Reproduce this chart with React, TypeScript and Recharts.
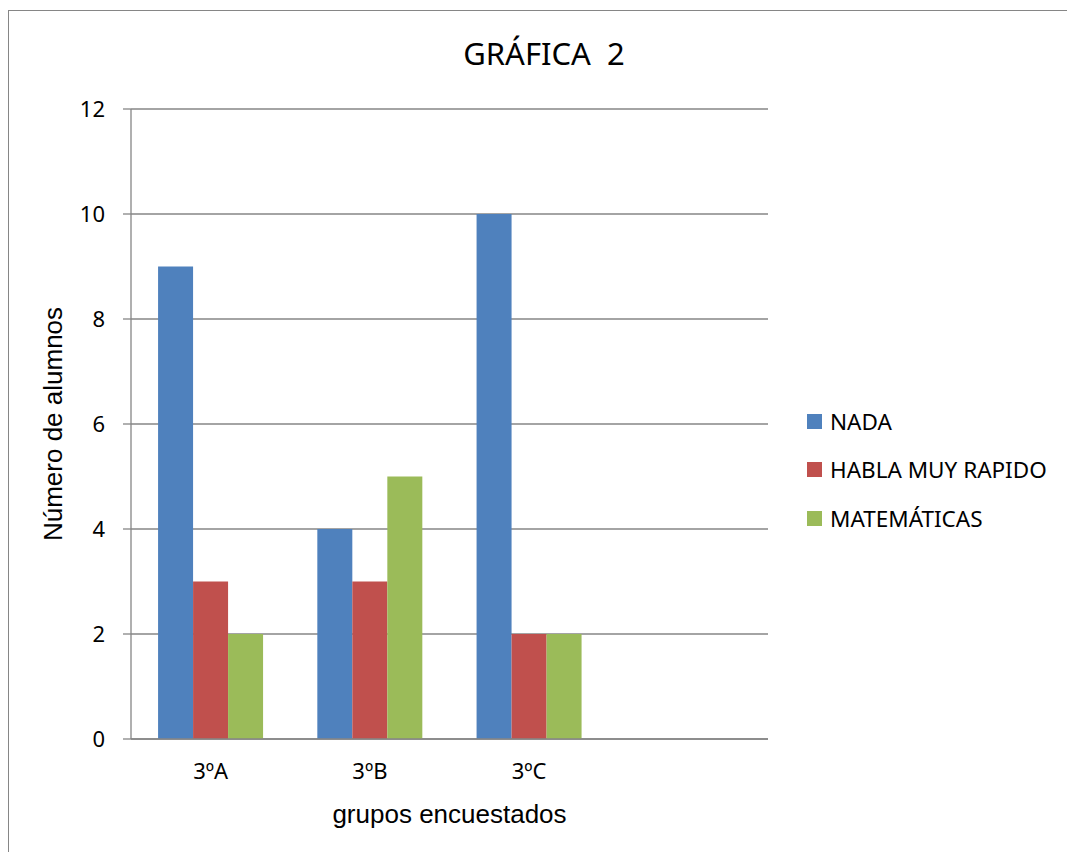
import { BarChart, Bar, XAxis, YAxis, CartesianGrid, Legend, Text } from 'recharts'

// groups surveyed (the 4th slot is empty in the original sheet)
const groups = ['3ºA', '3ºB', '3ºC', '']
const nada = [9, 4, 10, null]
const hablaMuyRapido = [3, 3, 2, null]
const matematicas = [2, 5, 2, null]
const yTicks = [0, 2, 4, 6, 8, 10, 12]

const seriesNames = ['NADA', 'HABLA MUY RAPIDO', 'MATEMÁTICAS']
const seriesColors = ['#4F81BD', '#C0504D', '#9BBB59']

const data = groups.map((g, i) => ({
  grupo: g,
  NADA: nada[i],
  'HABLA MUY RAPIDO': hablaMuyRapido[i],
  MATEMÁTICAS: matematicas[i],
}))

const gridColor = '#868686'
const font = '"Noto Sans", sans-serif'

function LegendBox() {
  return (
    <ul style={{ listStyle: 'none', margin: 0, padding: 0 }}>
      {seriesNames.map((name, i) => (
        <li
          key={name}
          style={{ display: 'flex', alignItems: 'center', height: 48.5 }}
        >
          <span
            style={{
              display: 'inline-block',
              width: 15,
              height: 15,
              background: seriesColors[i],
              marginRight: 8,
            }}
          />
          <span style={{ fontSize: 22.5, color: '#000', fontFamily: font }}>
            {name}
          </span>
        </li>
      ))}
    </ul>
  )
}

export default function App() {
  return (
    <div
      style={{
        position: 'fixed',
        left: 8,
        top: 10,
        width: 1100,
        height: 900,
        borderLeft: `1px solid ${gridColor}`,
        borderTop: `1px solid ${gridColor}`,
        background: '#fff',
        fontFamily: font,
      }}
    >
      <div
        style={{
          position: 'absolute',
          left: 0,
          top: 27,
          width: 1070,
          textAlign: 'center',
          fontSize: 31,
          lineHeight: '30px',
          color: '#000',
          whiteSpace: 'pre',
        }}
      >
        {'GRÁFICA  2'}
      </div>
      <BarChart
        width={1058}
        height={841}
        data={data}
        margin={{ top: 98, right: 299, left: 62, bottom: 53 }}
        barCategoryGap="17%"
        barGap={0}
      >
        <CartesianGrid vertical={false} stroke={gridColor} strokeWidth={1.3} />
        <XAxis
          dataKey="grupo"
          height={60}
          stroke={gridColor}
          strokeWidth={1.3}
          tickLine={false}
          tickSize={0}
          tickMargin={24}
          tick={{ fill: '#000', fontSize: 22, fontFamily: font }}
          interval={0}
          label={{
            content: ({ viewBox }: any) => (
              <Text
                x={viewBox.x + viewBox.width / 2}
                y={803}
                textAnchor="middle"
                verticalAnchor="middle"
                fontSize={26}
                fontFamily='"Liberation Sans", Arial, sans-serif'
                fill="#000"
              >
                grupos encuestados
              </Text>
            ),
          }}
        />
        <YAxis
          domain={[0, 12]}
          ticks={yTicks}
          width={60}
          stroke={gridColor}
          strokeWidth={1.3}
          tickSize={8}
          tickMargin={18}
          tick={{ fill: '#000', fontSize: 22, fontFamily: font }}
          allowDecimals={false}
          label={{
            content: ({ viewBox }: any) => (
              <Text
                x={44}
                y={viewBox.y + viewBox.height / 2}
                angle={-90}
                textAnchor="middle"
                verticalAnchor="middle"
                fontSize={26}
                fontFamily='"Liberation Sans", Arial, sans-serif'
                fill="#000"
              >
                Número de alumnos
              </Text>
            ),
          }}
        />
        <Legend
          layout="vertical"
          align="center"
          verticalAlign="middle"
          content={<LegendBox />}
          wrapperStyle={{ left: 798, top: 386, width: 260 }}
        />
        {seriesNames.map((name, i) => (
          <Bar
            key={name}
            dataKey={name}
            fill={seriesColors[i]}
            isAnimationActive={false}
          />
        ))}
      </BarChart>
    </div>
  )
}
